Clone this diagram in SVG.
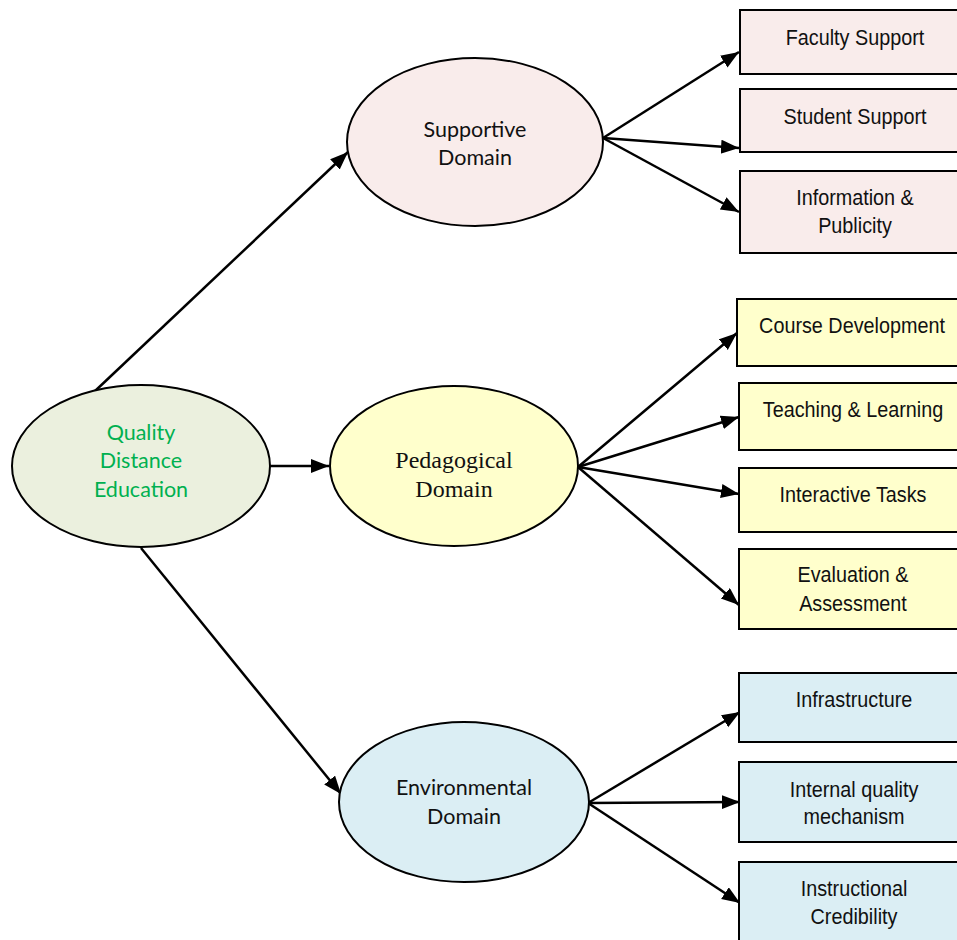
<svg xmlns="http://www.w3.org/2000/svg" width="957" height="940" viewBox="0 0 957 940">
  <defs>
    <marker id="arrow" markerUnits="userSpaceOnUse" markerWidth="20" markerHeight="16" refX="18" refY="7" orient="auto">
      <path d="M0,0 L18,7 L0,14 z" fill="#000"/>
    </marker>
    <style>
      .conn { stroke: #000; stroke-width: 2.5; fill: none; marker-end: url(#arrow); }
      .oval { stroke: #000; stroke-width: 2; }
      .box { stroke: #000; stroke-width: 2; }
      .sup { fill: #F9ECEB; }
      .ped { fill: #FFFFCC; }
      .env { fill: #DBEEF4; }
      .root { fill: #EBF0DE; }
      .lbl { font-family: "Liberation Sans", Arial, sans-serif; font-size: 22px; fill: #111; text-anchor: middle; }
      .olbl { font-family: Lato, "Open Sans", sans-serif; font-size: 21.5px; fill: #111; text-anchor: middle; }
      .slbl { font-family: "Liberation Serif", "DejaVu Serif", serif; font-size: 24px; fill: #111; text-anchor: middle; }
      .glbl { font-family: Lato, "Open Sans", sans-serif; font-size: 21.5px; fill: #00B050; text-anchor: middle; }
    </style>
  </defs>
  <rect width="957" height="940" fill="#fff"/>

  <!-- connectors -->
  <g id="connectors">
    <line class="conn" x1="94" y1="392" x2="348" y2="152"/>
    <line class="conn" x1="270" y1="466" x2="329" y2="466"/>
    <line class="conn" x1="141" y1="548" x2="341" y2="794"/>

    <line class="conn" x1="603" y1="138" x2="739" y2="52"/>
    <line class="conn" x1="603" y1="138" x2="739" y2="148"/>
    <line class="conn" x1="603" y1="138" x2="739" y2="212"/>

    <line class="conn" x1="578" y1="467" x2="737" y2="333"/>
    <line class="conn" x1="578" y1="467" x2="739" y2="417"/>
    <line class="conn" x1="578" y1="467" x2="739" y2="494"/>
    <line class="conn" x1="578" y1="467" x2="739" y2="605"/>

    <line class="conn" x1="588" y1="803" x2="740" y2="712"/>
    <line class="conn" x1="588" y1="803" x2="740" y2="802"/>
    <line class="conn" x1="588" y1="803" x2="740" y2="903"/>
  </g>

  <!-- root -->
  <g id="quality-distance-education">
    <ellipse class="oval root" cx="141" cy="466" rx="129" ry="81"/>
    <text class="glbl" x="141" y="440">Quality</text>
    <text class="glbl" x="141" y="468">Distance</text>
    <text class="glbl" x="141" y="497">Education</text>
  </g>

  <!-- domains -->
  <g id="supportive-domain">
    <ellipse class="oval sup" cx="475" cy="142" rx="128" ry="84"/>
    <text class="olbl" x="475" y="137">Supportive</text>
    <text class="olbl" x="475" y="165">Domain</text>
  </g>
  <g id="pedagogical-domain">
    <ellipse class="oval ped" cx="454" cy="466" rx="124" ry="80"/>
    <text class="slbl" x="454" y="468">Pedagogical</text>
    <text class="slbl" x="454" y="497">Domain</text>
  </g>
  <g id="environmental-domain">
    <ellipse class="oval env" cx="464" cy="802" rx="125" ry="80"/>
    <text class="olbl" x="464" y="795">Environmental</text>
    <text class="olbl" x="464" y="824">Domain</text>
  </g>

  <!-- supportive items -->
  <g id="faculty-support">
    <rect class="box sup" x="740" y="10" width="230" height="64"/>
    <text class="lbl" transform="translate(855,45) scale(0.9,1)">Faculty Support</text>
  </g>
  <g id="student-support">
    <rect class="box sup" x="740" y="89" width="230" height="63"/>
    <text class="lbl" transform="translate(855,124) scale(0.9,1)">Student Support</text>
  </g>
  <g id="information-publicity">
    <rect class="box sup" x="740" y="171" width="230" height="82"/>
    <text class="lbl" transform="translate(855,205) scale(0.9,1)">Information &amp;</text>
    <text class="lbl" transform="translate(855,233) scale(0.9,1)">Publicity</text>
  </g>

  <!-- pedagogical items -->
  <g id="course-development">
    <rect class="box ped" x="737" y="299" width="233" height="67"/>
    <text class="lbl" transform="translate(852,333) scale(0.9,1)">Course Development</text>
  </g>
  <g id="teaching-learning">
    <rect class="box ped" x="739" y="383" width="231" height="67"/>
    <text class="lbl" transform="translate(853,417) scale(0.9,1)">Teaching &amp; Learning</text>
  </g>
  <g id="interactive-tasks">
    <rect class="box ped" x="739" y="468" width="231" height="64"/>
    <text class="lbl" transform="translate(853,502) scale(0.9,1)">Interactive Tasks</text>
  </g>
  <g id="evaluation-assessment">
    <rect class="box ped" x="739" y="549" width="231" height="80"/>
    <text class="lbl" transform="translate(853,582) scale(0.9,1)">Evaluation &amp;</text>
    <text class="lbl" transform="translate(853,611) scale(0.9,1)">Assessment</text>
  </g>

  <!-- environmental items -->
  <g id="infrastructure">
    <rect class="box env" x="739" y="673" width="231" height="69"/>
    <text class="lbl" transform="translate(854,707) scale(0.9,1)">Infrastructure</text>
  </g>
  <g id="internal-quality-mechanism">
    <rect class="box env" x="739" y="762" width="231" height="80"/>
    <text class="lbl" transform="translate(854,797) scale(0.9,1)">Internal quality</text>
    <text class="lbl" transform="translate(854,824) scale(0.9,1)">mechanism</text>
  </g>
  <g id="instructional-credibility">
    <rect class="box env" x="739" y="862" width="231" height="90"/>
    <text class="lbl" transform="translate(854,896) scale(0.9,1)">Instructional</text>
    <text class="lbl" transform="translate(854,924) scale(0.9,1)">Credibility</text>
  </g>
</svg>
